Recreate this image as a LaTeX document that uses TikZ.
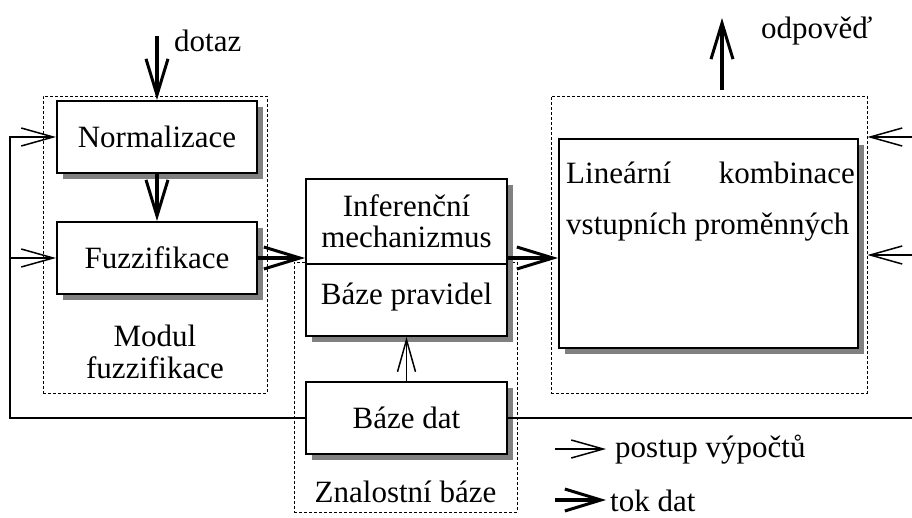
\documentclass[tikz,border=0pt]{standalone}
\usepackage{fontspec}
\setmainfont{Liberation Serif}
\usetikzlibrary{arrows.meta,shadows}
\begin{document}
\begin{tikzpicture}[x=1pt,y=-1pt,
  font=\fontsize{31}{34}\selectfont,
  box/.style={draw, line width=2pt, fill=white, inner sep=0pt, align=center,
    drop shadow={shadow xshift=6pt, shadow yshift=-6pt, fill=black!50, opacity=1}},
  dbox/.style={draw, densely dashed, line width=0.8pt, inner sep=0pt},
  thinarrow/.style={line width=1.5pt, -{Straight Barb[length=32pt,width=18pt,line width=1.5pt]}},
  thickarrow/.style={line width=3.5pt, -{Straight Barb[length=36pt,width=22pt,line width=3pt]}},
  plain/.style={line width=1.5pt},
  lbl/.style={inner sep=0pt, align=center}]
\useasboundingbox (0,0) rectangle (912,517);
% dashed modules
\node[dbox, minimum width=224pt, minimum height=297pt] (mdash) at (155,244.5) {};
\node[dbox, minimum width=223pt, minimum height=250pt] (zdash) at (405.5,387) {};
\node[dbox, minimum width=316pt, minimum height=297pt] (rdash) at (709,244.5) {};
% boxes
\node[box, minimum width=200pt, minimum height=72pt] (norm) at (157,137) {Normalizace};
\node[box, minimum width=200pt, minimum height=72pt] (fuzz) at (157,258) {Fuzzifikace};
\node[box, minimum width=201pt, minimum height=85pt] (inf) at (406.5,221.5) {Inferenční\\[-3pt]mechanizmus};
\node[box, minimum width=201pt, minimum height=72pt] (bp) at (406.5,300) {};
\node[lbl] (bpt) at (406.5,297) {Báze pravidel};
\node[box, minimum width=201pt, minimum height=72pt] (dat) at (406.5,418) {Báze dat};
\node[box, minimum width=299pt, minimum height=209pt] (lin) at (708.5,243.5) {};
\node[lbl, anchor=west] (lin1) at (566,173) {Lineární};
\node[lbl, anchor=east] (lin2) at (855,173) {kombinace};
\node[lbl, anchor=west] (lin3) at (566,227) {vstupních proměnných};
% labels
\node[lbl, anchor=west] (dotaz) at (174,41) {dotaz};
\node[lbl, anchor=west] (odp) at (761,31) {odpověď};
\node[lbl] (modul) at (155,352) {Modul\\[-2pt]fuzzifikace};
\node[lbl] (znal) at (405.5,492) {Znalostní báze};
% coordinates
\coordinate (dq) at (157,36);
\coordinate (lb) at (10,418);
\coordinate (lt) at (10,137);
\coordinate (lm) at (10,258);
\coordinate (rb) at (913,418);
\coordinate (rt) at (913,137);
\coordinate (rm) at (913,255);
\coordinate (ob) at (722,90);
\coordinate (ot) at (722,18);
% connectors
\draw[thickarrow] (dq) -- (norm.north);
\draw[thickarrow] (norm.south) -- (fuzz.north);
\draw[thinarrow] (dat.west) -- (lb) -- (lt) -- (norm.west);
\draw[thinarrow] (lm) -- (fuzz.west);
\draw[plain] (dat.east) -- (rb);
\draw[thinarrow] (rt) -- (rt -| rdash.east);
\draw[thinarrow] (rm) -- (rm -| rdash.east);
\draw[thickarrow] (fuzz.east) -- (fuzz.east -| inf.west);
\draw[thickarrow] (fuzz.east -| inf.east) -- (fuzz.east -| lin.west);
\draw[thinarrow] (dat.north) -- (bp.south);
\draw[thickarrow] (ob) -- (ot);
% legend
\coordinate (l1a) at (555,449);
\coordinate (l1b) at (606,449);
\coordinate (l2a) at (555,500);
\coordinate (l2b) at (606,500);
\draw[thinarrow] (l1a) -- (l1b);
\draw[thickarrow] (l2a) -- (l2b);
\node[lbl, anchor=west] (leg1) at (615,450) {postup výpočtů};
\node[lbl, anchor=west] (leg2) at (610,501) {tok dat};
\end{tikzpicture}
\end{document}
